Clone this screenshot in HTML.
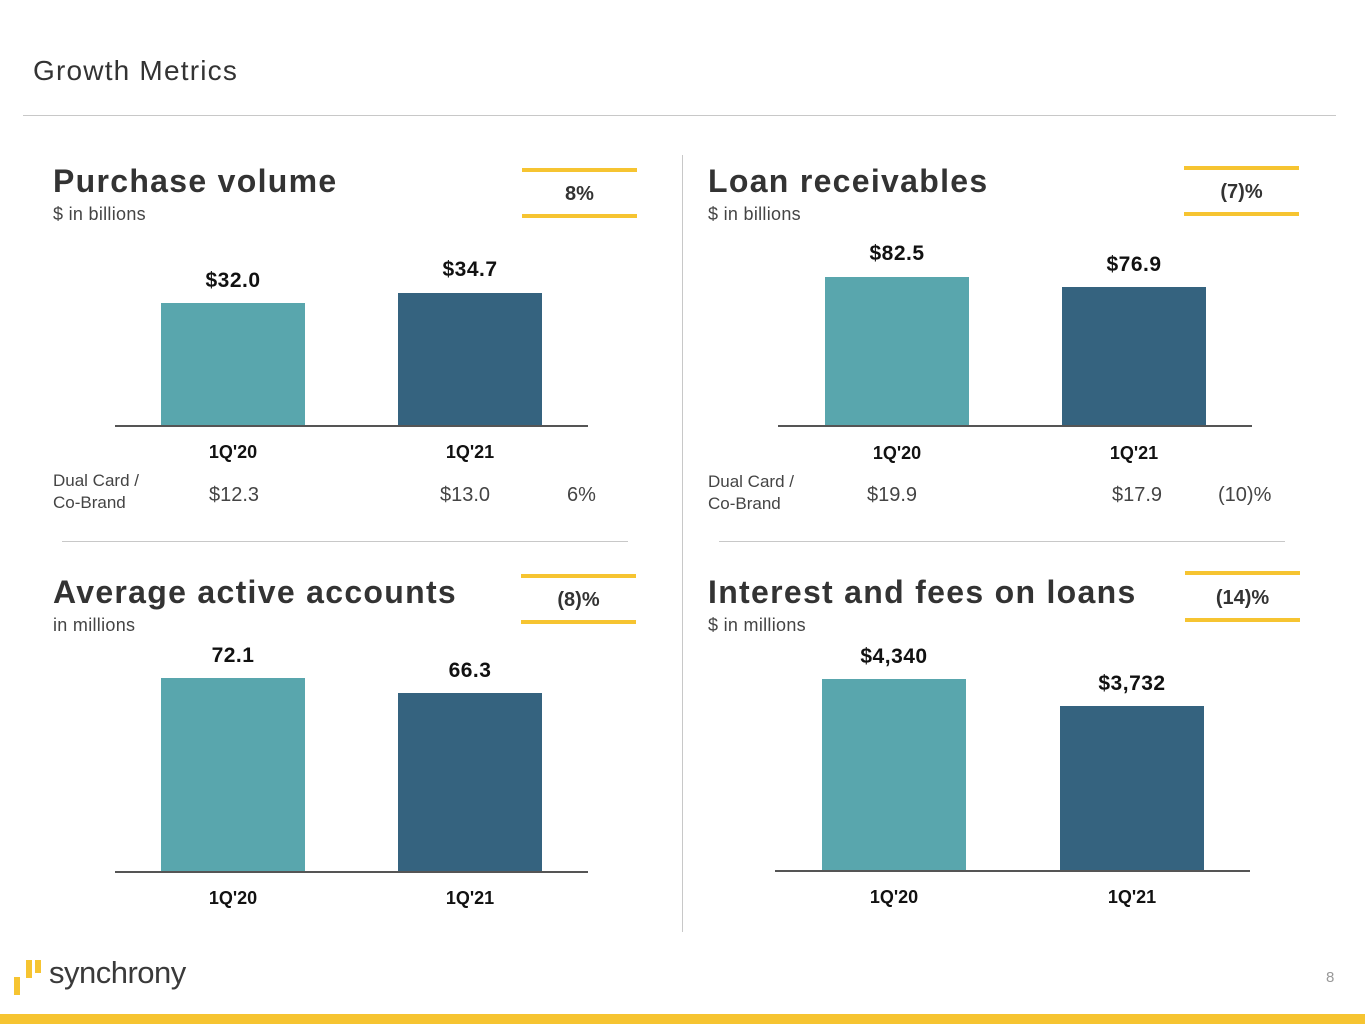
<!DOCTYPE html>
<html><head><meta charset="utf-8"><style>
body{margin:0;width:1365px;height:1024px;position:relative;background:#fff;font-family:"Liberation Sans",sans-serif;color:#333;overflow:hidden}
div,span{position:absolute}
.t{font-weight:bold;font-size:32px;color:#333;white-space:nowrap;letter-spacing:1.3px}
.s{font-size:18px;color:#444;white-space:nowrap;letter-spacing:0.3px}
.y{background:#f6c431;height:4px}
.p{font-weight:bold;font-size:20px;color:#333;text-align:center;width:115px}
.v{font-weight:bold;font-size:21px;color:#111;text-align:center;width:144px;letter-spacing:0.5px}
.c{font-weight:bold;font-size:18px;color:#111;text-align:center;width:144px}
.a{background:#555;height:1.5px}
.tl{background:#59a6ad}.nv{background:#35637f}
.d{font-size:20px;color:#444;white-space:nowrap}
.dl{font-size:17px;color:#444;line-height:22px}
</style></head><body>
<div style="left:33px;top:55px;font-size:28px;color:#333;letter-spacing:1.2px">Growth Metrics</div>
<div style="left:23px;top:115px;width:1313px;height:1px;background:#c8c8c8"></div>
<div style="left:682px;top:155px;width:1px;height:777px;background:#c8c8c8"></div>
<div style="left:62px;top:541px;width:566px;height:1px;background:#c8c8c8"></div>
<div style="left:719px;top:541px;width:566px;height:1px;background:#c8c8c8"></div>

<div class="t" style="left:53px;top:163px">Purchase volume</div>
<div class="s" style="left:53px;top:204px">$ in billions</div>
<div class="y" style="left:522px;top:168px;width:115px"></div>
<div class="y" style="left:522px;top:214px;width:115px"></div>
<div class="p" style="left:522px;top:183px">8%</div>
<div class="v" style="left:161px;top:269px">$32.0</div>
<div class="v" style="left:398px;top:258px">$34.7</div>
<div class="tl" style="left:161px;top:303px;width:144px;height:123px"></div>
<div class="nv" style="left:398px;top:293px;width:144px;height:133px"></div>
<div class="a" style="left:115px;top:425px;width:473px"></div>
<div class="c" style="left:161px;top:442px">1Q'20</div>
<div class="c" style="left:398px;top:442px">1Q'21</div>
<div class="dl" style="left:53px;top:470px">Dual Card /<br>Co-Brand</div>
<div class="d" style="left:209px;top:484px">$12.3</div>
<div class="d" style="left:440px;top:484px">$13.0</div>
<div class="d" style="left:567px;top:484px">6%</div>

<div class="t" style="left:708px;top:163px">Loan receivables</div>
<div class="s" style="left:708px;top:204px">$ in billions</div>
<div class="y" style="left:1184px;top:166px;width:115px"></div>
<div class="y" style="left:1184px;top:212px;width:115px"></div>
<div class="p" style="left:1184px;top:181px">(7)%</div>
<div class="v" style="left:825px;top:242px">$82.5</div>
<div class="v" style="left:1062px;top:253px">$76.9</div>
<div class="tl" style="left:825px;top:277px;width:144px;height:149px"></div>
<div class="nv" style="left:1062px;top:287px;width:144px;height:139px"></div>
<div class="a" style="left:778px;top:425px;width:474px"></div>
<div class="c" style="left:825px;top:443px">1Q'20</div>
<div class="c" style="left:1062px;top:443px">1Q'21</div>
<div class="dl" style="left:708px;top:471px">Dual Card /<br>Co-Brand</div>
<div class="d" style="left:867px;top:484px">$19.9</div>
<div class="d" style="left:1112px;top:484px">$17.9</div>
<div class="d" style="left:1218px;top:484px">(10)%</div>

<div class="t" style="left:53px;top:574px">Average active accounts</div>
<div class="s" style="left:53px;top:615px">in millions</div>
<div class="y" style="left:521px;top:574px;width:115px"></div>
<div class="y" style="left:521px;top:620px;width:115px"></div>
<div class="p" style="left:521px;top:589px">(8)%</div>
<div class="v" style="left:161px;top:644px">72.1</div>
<div class="v" style="left:398px;top:659px">66.3</div>
<div class="tl" style="left:161px;top:678px;width:144px;height:194px"></div>
<div class="nv" style="left:398px;top:693px;width:144px;height:179px"></div>
<div class="a" style="left:115px;top:871px;width:473px"></div>
<div class="c" style="left:161px;top:888px">1Q'20</div>
<div class="c" style="left:398px;top:888px">1Q'21</div>

<div class="t" style="left:708px;top:574px">Interest and fees on loans</div>
<div class="s" style="left:708px;top:615px">$ in millions</div>
<div class="y" style="left:1185px;top:571px;width:115px"></div>
<div class="y" style="left:1185px;top:618px;width:115px"></div>
<div class="p" style="left:1185px;top:587px">(14)%</div>
<div class="v" style="left:822px;top:645px">$4,340</div>
<div class="v" style="left:1060px;top:672px">$3,732</div>
<div class="tl" style="left:822px;top:679px;width:144px;height:192px"></div>
<div class="nv" style="left:1060px;top:706px;width:144px;height:165px"></div>
<div class="a" style="left:775px;top:870px;width:475px"></div>
<div class="c" style="left:822px;top:887px">1Q'20</div>
<div class="c" style="left:1060px;top:887px">1Q'21</div>

<div style="left:14px;top:977px;width:6px;height:18px;background:#f6c431"></div>
<div style="left:26px;top:960px;width:6px;height:18px;background:#f6c431"></div>
<div style="left:35px;top:960px;width:6px;height:13px;background:#f6c431"></div>
<div style="left:49px;top:955px;font-size:31px;color:#3a3a3a;letter-spacing:-0.5px">synchrony</div>
<div style="left:1326px;top:969px;font-size:15px;color:#999">8</div>
<div style="left:0;top:1014px;width:1365px;height:10px;background:#f6c431"></div>
</body></html>
